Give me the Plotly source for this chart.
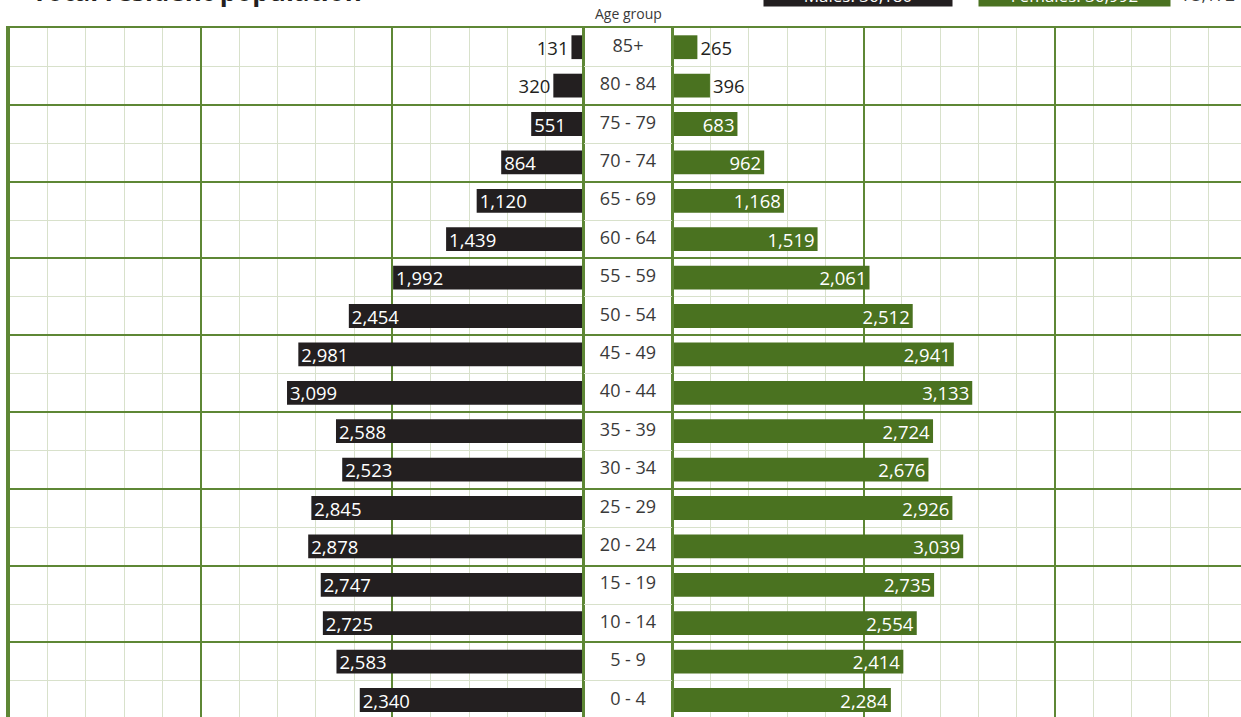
import plotly.graph_objects as go

# ---- data ----
age_groups = ["0 - 4", "5 - 9", "10 - 14", "15 - 19", "20 - 24", "25 - 29", "30 - 34",
              "35 - 39", "40 - 44", "45 - 49", "50 - 54", "55 - 59", "60 - 64",
              "65 - 69", "70 - 74", "75 - 79", "80 - 84", "85+"]
males = [2340, 2583, 2725, 2747, 2878, 2845, 2523, 2588, 3099, 2981, 2454, 1992,
         1439, 1120, 864, 551, 320, 131]
females = [2284, 2414, 2554, 2735, 3039, 2926, 2676, 2724, 3133, 2941, 2512, 2061,
           1519, 1168, 962, 683, 396, 265]
title_text = "Total resident population"

male_total = sum(males)
female_total = sum(females)
grand_total = male_total + female_total

# ---- style ----
MALE_C = "#231f20"
FEMALE_C = "#4a7220"
MAJOR = "#5e8735"
MINOR = "#d8e1cb"
FONT = "Open Sans"

W, H = 1241, 717
ML, MR, MT, MB = 8, 0, 28, 0
PW = W - ML - MR
PH = H - MT - MB


def px_x(p):
    return (p - ML) / PW


def px_y(p):
    return 1 + (MT - p) / PH


idx = list(range(len(age_groups)))

fig = go.Figure()

fig.add_trace(go.Bar(
    x=males, y=idx, orientation="h", width=0.62,
    marker=dict(color=MALE_C, line=dict(width=0)),
    text=[f"{v:,}" for v in males],
    textposition=["outside" if v < 500 else "inside" for v in males],
    insidetextanchor="end", constraintext="none",
    insidetextfont=dict(color="white", size=18.5, family=FONT),
    outsidetextfont=dict(color=MALE_C, size=18.5, family=FONT),
    cliponaxis=False, xaxis="x", yaxis="y", hoverinfo="skip", showlegend=False,
))

fig.add_trace(go.Bar(
    x=females, y=idx, orientation="h", width=0.62,
    marker=dict(color=FEMALE_C, line=dict(width=0)),
    text=[f"{v:,}" for v in females],
    textposition=["outside" if v < 500 else "inside" for v in females],
    insidetextanchor="end", constraintext="none",
    insidetextfont=dict(color="white", size=18.5, family=FONT),
    outsidetextfont=dict(color=MALE_C, size=18.5, family=FONT),
    cliponaxis=False, xaxis="x2", yaxis="y2", hoverinfo="skip", showlegend=False,
))

fig.add_trace(go.Scatter(
    x=[0] * len(idx), y=idx, mode="text", text=age_groups,
    textposition="middle center",
    textfont=dict(color="#3a3a3a", size=18, family=FONT),
    xaxis="x3", yaxis="y3", hoverinfo="skip", showlegend=False,
))

scale = 0.09583  # px per unit
left_range = (584 - ML) / scale
right_range = (W - 672) / scale

ROW = 38.4
yr = [17.5 - PH / ROW, 17.5]

ycommon = dict(
    range=yr, showticklabels=False, ticks="", zeroline=False,
    showgrid=True, gridcolor=MAJOR, gridwidth=1.5, tick0=-0.5, dtick=2,
    minor=dict(showgrid=True, gridcolor=MINOR, gridwidth=1, tick0=-0.5, dtick=1),
)

xcommon = dict(
    showticklabels=False, ticks="", showgrid=True, gridcolor=MAJOR, gridwidth=1.5,
    tick0=0, dtick=2000, zeroline=True, zerolinecolor=MAJOR, zerolinewidth=1.5,
    minor=dict(showgrid=True, gridcolor=MINOR, gridwidth=1, dtick=400),
    side="top", showline=True, linecolor=MAJOR, linewidth=1.5,
)

fig.update_layout(
    width=W, height=H,
    margin=dict(l=ML, r=MR, t=MT, b=MB, pad=0),
    paper_bgcolor="white", plot_bgcolor="white",
    font=dict(family=FONT, color="#3a3a3a"),
    barmode="overlay",
    xaxis=dict(domain=[0, px_x(584)], range=[left_range, 0], **xcommon),
    xaxis2=dict(domain=[px_x(672), 1], range=[0, right_range], **xcommon),
    xaxis3=dict(domain=[px_x(584), px_x(672)], range=[-1, 1], showgrid=False,
                zeroline=False, showticklabels=False, ticks="", side="top",
                showline=True, linecolor=MAJOR, linewidth=1.5),
    yaxis=dict(anchor="x", showline=True, linecolor=MAJOR, linewidth=1.5, **ycommon),
    yaxis2=dict(anchor="x2", matches="y", **ycommon),
    yaxis3=dict(anchor="x3", matches="y", showline=True, mirror=True,
                linecolor=MAJOR, linewidth=1.5, **ycommon),
)

ann = []
ann.append(dict(text=f"<b>{title_text}</b>", x=px_x(30), y=px_y(10.5), xref="paper", yref="paper",
                xanchor="left", yanchor="bottom", showarrow=False,
                font=dict(size=26, color="#231f20", family=FONT)))
ann.append(dict(text="Age group", x=px_x(628), y=px_y(13), xref="paper", yref="paper",
                xanchor="center", yanchor="middle", showarrow=False,
                font=dict(size=14, color="#3a3a3a", family=FONT)))
ann.append(dict(text=f"Males: {male_total:,}", x=px_x(858), y=px_y(7), xref="paper", yref="paper",
                xanchor="center", yanchor="bottom", showarrow=False, width=188, height=22,
                bgcolor=MALE_C, borderpad=0, font=dict(size=17, color="white", family=FONT)))
ann.append(dict(text="+", x=px_x(968), y=px_y(8), xref="paper", yref="paper",
                xanchor="center", yanchor="bottom", showarrow=False,
                font=dict(size=17, color="#3a3a3a", family=FONT)))
ann.append(dict(text=f"Females: {female_total:,}", x=px_x(1074.5), y=px_y(7), xref="paper", yref="paper",
                xanchor="center", yanchor="bottom", showarrow=False, width=191, height=22,
                bgcolor=FEMALE_C, borderpad=0, font=dict(size=17, color="white", family=FONT)))
ann.append(dict(text=f"{grand_total:,}", x=px_x(1180), y=px_y(8), xref="paper", yref="paper",
                xanchor="left", yanchor="bottom", showarrow=False,
                font=dict(size=17, color="#3a3a3a", family=FONT)))
fig.update_layout(annotations=ann)

fig.write_html("out.html")
